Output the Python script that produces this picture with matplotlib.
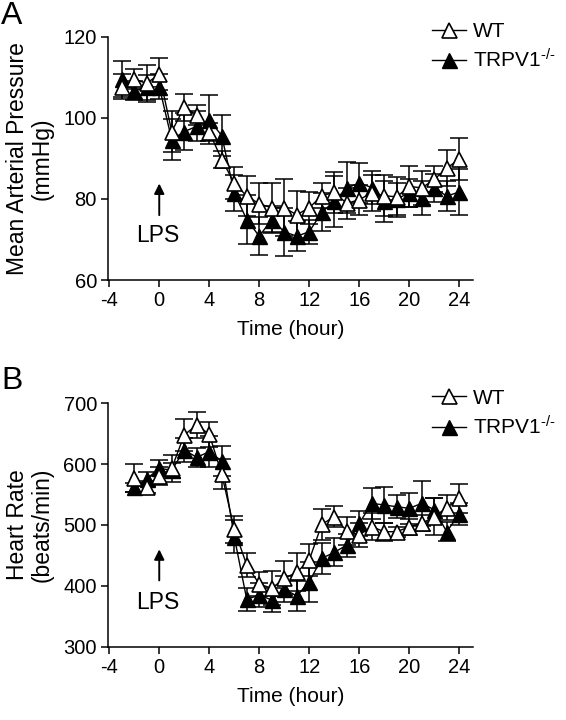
import matplotlib
matplotlib.use("Agg")
import matplotlib.pyplot as plt
import numpy as np

plt.rcParams['font.family'] = ['Liberation Sans', 'DejaVu Sans']
plt.rcParams['mathtext.fontset'] = 'custom'
plt.rcParams['mathtext.rm'] = 'Liberation Sans'
plt.rcParams['mathtext.it'] = 'Liberation Sans:italic'

# ---------------- Data ----------------
hours_a = list(range(-3, 25))
map_wt = [107.7, 109.5, 108.5, 110.8, 96.6, 102.6, 100.7, 96.5, 89.7, 83.9, 80.7, 78.8,
          77.8, 77.8, 76.1, 77.8, 80.8, 81.6, 78.9, 79.8, 81.5, 80.8, 80.5, 83.1,
          82.7, 84.8, 87.6, 89.8]
map_wt_sem = [3, 2.5, 4.5, 4, 5, 3.3, 2.5, 2.3, 2, 4, 5, 5,
              6, 7, 5.8, 4, 3, 5, 3.8, 3.7, 4.5, 5, 5, 5,
              4.3, 3.2, 4.4, 5.2]
map_ko = [109.5, 106.7, 107.5, 107.7, 94.6, 96.6, 97.9, 99.5, 95.6, 81.5, 74.9, 70.8,
          74.9, 71.9, 70.8, 71.9, 76.7, 79.4, 82.7, 83.9, 82.8, 79.4, 80.0, 81.5,
          80.2, 82.7, 80.7, 81.7]
map_ko_sem = [4.4, 2.4, 3, 3, 5, 4.5, 3.7, 6, 5, 4.4, 6, 4.7,
              3.3, 5.9, 3.7, 2.9, 4.7, 6.3, 6.3, 5, 4, 5, 4, 3.5,
              4.1, 3.5, 3.7, 5.6]

hours_b = list(range(-2, 25))
hr_wt = [577.8, 561.9, 580.5, 593.2, 648.0, 664.4, 649.0, 583.8, 492.9, 434.2, 403.0,
         395.9, 412.3, 422.2, 442.5, 501.0, 513.7, 490.1, 484.0, 497.3, 489.0, 489.0,
         497.0, 502.7, 513.7, 528.5, 543.8]
hr_wt_sem = [23, 10, 15, 22, 26, 21, 20, 24, 22, 19, 19,
             28, 28, 31, 27, 26, 17, 23, 20, 22, 15, 8,
             13, 13, 30, 20, 24]
hr_ko = [561.9, 575.6, 593.2, 590.0, 623.3, 611.2, 620.5, 605.2, 480.8, 377.8, 384.9,
         376.7, 394.8, 383.3, 406.8, 445.2, 455.0, 467.0, 502.7, 535.6, 532.9, 530.0,
         527.4, 535.6, 525.0, 489.0, 518.0]
hr_ko_sem = [7, 12, 13, 12, 19, 16, 25, 25, 27, 19, 19,
             20, 22, 24, 33, 25, 23, 19, 20, 25, 29, 19,
             26, 37, 20, 16, 18]

xticks = [-4, 0, 4, 8, 12, 16, 20, 24]
yticks_a = [60, 80, 100, 120]
yticks_b = [300, 400, 500, 600, 700]

series_labels = ['WT', r'TRPV1$^{\text{-/-}}$']

# ---------------- Figure ----------------
W, H = 566, 720
fig = plt.figure(figsize=(W / 100, H / 100), dpi=100)

def fx(px):
    return px / W

def fy(py):
    return 1 - py / H

ax_a = fig.add_axes([fx(108), fy(280), fx(473 - 108), (280 - 36.7) / H])
ax_b = fig.add_axes([fx(108), fy(646.7), fx(473 - 108), (646.7 - 403.3) / H])

FS = 15
TICK_FS = 14.5
YLAB_FS = 16.5

def draw(ax, x, wt, wt_sem, ko, ko_sem):
    ms = 10.8
    ax.errorbar(x, ko, yerr=ko_sem, fmt='none', ecolor='black', elinewidth=1.1,
                capsize=6.5, capthick=1.1, zorder=2)
    ax.errorbar(x, wt, yerr=wt_sem, fmt='none', ecolor='black', elinewidth=1.1,
                capsize=6.5, capthick=1.1, zorder=2)
    l_ko, = ax.plot(x, ko, '-', marker='^', color='black', mfc='black', mec='black',
                    ms=ms, lw=1.0, mew=1.0, zorder=3)
    l_wt, = ax.plot(x, wt, '-', marker='^', color='black', mfc='white', mec='black',
                    ms=ms, lw=1.0, mew=1.2, zorder=4)
    for s in ['top', 'right']:
        ax.spines[s].set_visible(False)
    for s in ['left', 'bottom']:
        ax.spines[s].set_linewidth(1.1)
    ax.set_xlim(-4.1, 25.1)
    ax.set_xticks(xticks)
    ax.set_xticklabels([str(t) for t in xticks])
    ax.tick_params(axis='both', direction='out', length=5, width=1.1,
                   labelsize=TICK_FS, pad=3)
    ax.set_xlabel('Time (hour)', fontsize=FS, labelpad=7)
    leg = ax.legend([l_wt, l_ko], series_labels, loc='upper left',
                    bbox_to_anchor=(0.888, 1.06), frameon=False, fontsize=FS,
                    borderpad=0, borderaxespad=0, handlelength=1.65,
                    handletextpad=0.3, labelspacing=0.35)
    return leg

draw(ax_a, hours_a, map_wt, map_wt_sem, map_ko, map_ko_sem)
ax_a.set_ylim(60, 120)
ax_a.set_yticks(yticks_a)
ax_a.set_ylabel('Mean Arterial Pressure\n(mmHg)', fontsize=YLAB_FS, linespacing=1.05)
ax_a.yaxis.set_label_coords(-0.15, 0.5)
ax_a.annotate('', xy=(0, 83.8), xytext=(0, 76.0),
              arrowprops=dict(arrowstyle='-|>', color='black', lw=1.4, mutation_scale=15,
                              shrinkA=0, shrinkB=0))
ax_a.text(-0.1, 71.0, 'LPS', ha='center', va='center', fontsize=16.5)

draw(ax_b, hours_b, hr_wt, hr_wt_sem, hr_ko, hr_ko_sem)
ax_b.set_ylim(300, 700)
ax_b.set_yticks(yticks_b)
ax_b.set_ylabel('Heart Rate\n(beats/min)', fontsize=YLAB_FS, linespacing=1.05)
ax_b.yaxis.set_label_coords(-0.15, 0.5)
ax_b.annotate('', xy=(0, 460), xytext=(0, 409),
              arrowprops=dict(arrowstyle='-|>', color='black', lw=1.4, mutation_scale=15,
                              shrinkA=0, shrinkB=0))
ax_b.text(-0.1, 372, 'LPS', ha='center', va='center', fontsize=16.5)

fig.text(fx(1), fy(1), 'A', fontsize=23, ha='left', va='top')
fig.text(fx(1), fy(366), 'B', fontsize=23, ha='left', va='top')

fig.savefig('out.png', dpi=100)
